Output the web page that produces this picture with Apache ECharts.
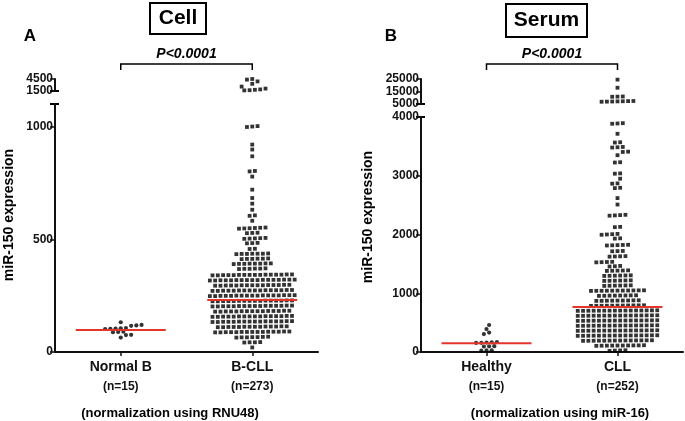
<!DOCTYPE html>
<html><head><meta charset="utf-8">
<script src="https://cdn.jsdelivr.net/npm/echarts@6/dist/echarts.min.js"></script>
<style>html,body{margin:0;padding:0;background:#fff}#c{width:685px;height:421px}</style>
</head><body><div id="c"></div>
<script>
// ---------- data ----------
const panelACategories = ['Normal B', 'B-CLL'];
const panelACounts = ['(n=15)', '(n=273)'];
const panelBCategories = ['Healthy', 'CLL'];
const panelBCounts = ['(n=15)', '(n=252)'];

const normalB = [132, 120, 118, 116, 106, 105, 104, 103, 102, 90, 89, 88, 76, 75, 64];

const bCLL = [
  4500, 4350, 3900, 3300, 2600, 2100, 1900, 1800, 1700, 1650,
  1002, 1000, 998, 920, 898, 868, 803, 801, 778, 720, 683, 658, 631, 606, 604, 582,
  552, 551, 550, 549, 548, 547, 529, 528, 527, 506, 505, 504, 503, 502, 484, 483, 482, 458, 457,
  437, 436, 436, 435, 435, 434, 436,
  415, 414, 414, 413, 413, 412,
  393, 392, 392, 391, 391, 390, 392, 393,
  371, 370, 370, 369, 369, 368,
  340, 341, 341, 342, 342, 342, 343, 343, 344, 344, 342, 341, 343, 340, 342, 343,
  317, 318, 318, 319, 319, 319, 320, 320, 321, 321, 319, 318, 320, 317, 319, 320, 321,
  294, 295, 295, 296, 296, 296, 297, 297, 298, 298, 296, 295, 297, 294, 296,
  271, 272, 272, 273, 273, 273, 274, 274, 275, 275, 273, 272, 274, 271, 273, 274,
  248, 249, 249, 250, 250, 250, 251, 251, 252, 252, 250, 249, 251, 248, 250, 251, 252,
  225, 226, 226, 227, 227, 227, 228, 228, 229, 229, 227, 226, 228, 225, 227, 228,
  202, 203, 203, 204, 204, 204, 205, 205, 206, 206, 204, 203, 205, 202, 204, 205,
  179, 180, 180, 181, 181, 181, 182, 182, 183, 183, 181, 180, 182, 179, 181,
  156, 157, 157, 158, 158, 158, 159, 159, 160, 160, 158, 157, 159, 156, 158, 159,
  133, 134, 134, 135, 135, 135, 136, 136, 137, 137, 135, 134, 136, 133, 135, 136,
  110, 111, 111, 112, 112, 112, 113, 113, 114, 114, 112, 111, 113, 110,
  87, 88, 88, 89, 89, 89, 90, 90, 91, 91, 89, 88, 90, 87, 89,
  64, 65, 66, 66, 67, 68, 65,
  42, 43, 44, 43,
  20
];

const healthy = [460, 390, 330, 305, 168, 164, 160, 157, 154, 100, 97, 94, 30, 26, 22];

const cllSerum = [
  24500, 18000, 11000, 10900, 10800, 7400, 7300, 7200, 7100, 7000, 6900, 6800,
  3895, 3890, 3885, 3714, 3570, 3565, 3490, 3485, 3480, 3410, 3405, 3350,
  3230, 3225, 3040, 3035, 2950, 2870, 2865, 2795, 2790, 2620, 2510,
  2335, 2330, 2325, 2320, 2130, 2125, 2010, 2005, 2000, 1995, 1935, 1930,
  1825, 1822, 1819, 1816, 1813, 1720, 1717, 1714, 1632, 1629, 1626, 1623,
  1535, 1532, 1529, 1526, 1465, 1460, 1455,
  1380, 1383, 1385, 1387, 1390,
  1295, 1297, 1299, 1301, 1303, 1305,
  1210, 1212, 1214, 1216, 1218, 1220,
  1125, 1128, 1130, 1131, 1133, 1135,
  1040, 1041, 1042, 1043, 1044, 1045, 1046, 1047, 1048, 1049, 1050,
  955, 957, 959, 960, 961, 962, 964, 965,
  870, 871, 873, 874, 875, 876, 877, 879, 880,
  785, 786, 787, 788, 789, 790, 791, 792, 793, 794, 795,
  700, 701, 702, 703, 704, 705, 705, 706, 707, 708, 709, 710, 703, 707, 704, 706,
  615, 616, 617, 618, 619, 620, 620, 621, 622, 623, 624, 625, 618, 622, 619, 621,
  530, 531, 532, 533, 534, 535, 535, 536, 537, 538, 539, 540, 533, 537, 534, 536,
  445, 446, 447, 448, 449, 450, 450, 451, 452, 453, 454, 455, 448, 452, 449, 451,
  360, 361, 362, 363, 364, 365, 365, 366, 367, 368, 369, 370, 363, 367, 364, 366,
  275, 276, 277, 278, 279, 280, 280, 281, 282, 283, 284, 285, 278, 282, 279, 281,
  190, 191, 192, 193, 194, 195, 195, 196, 197, 198, 199, 200, 193, 196,
  105, 107, 108, 109, 110, 111, 112, 113, 115, 110,
  20, 24, 27, 30
];

const medianA = [98, 231];
const medianB = [148, 765];

const ticksALower = [0, 500, 1000];
const ticksAUpper = [1500, 4500];
const ticksBLower = [0, 1000, 2000, 3000, 4000];
const ticksBUpper = [5000, 15000, 25000];
const rangeALower = [0, 1100];
const rangeAUpper = [1500, 4500];
const rangeBLower = [0, 4000];
const rangeBUpper = [5000, 25000];

// ---------- chart ----------
const FONT = "'Liberation Sans', Arial, Helvetica, sans-serif";
const INK = '#111';
const chart = echarts.init(document.getElementById('c'), null, {renderer: 'canvas'});

function yAxis(gi, range, ticks) {
  return {
    type: 'value', gridIndex: gi, min: range[0], max: range[1],
    splitLine: {show: false},
    axisLine: {show: true, onZero: false, lineStyle: {color: INK, width: 2}},
    axisTick: {show: true, customValues: ticks, length: 5, lineStyle: {color: INK, width: 1.5}},
    axisLabel: {customValues: ticks, formatter: v => String(v), fontSize: 12, fontWeight: 'bold', color: INK, fontFamily: FONT, margin: 2}
  };
}
function xAxis(gi, show, cats, counts) {
  if (!show) return {type: 'value', gridIndex: gi, min: 0.5, max: 2.5, show: false};
  return {
    type: 'value', gridIndex: gi, min: 0.5, max: 2.5,
    splitLine: {show: false},
    axisLine: {show: true, onZero: false, lineStyle: {color: INK, width: 2}},
    axisTick: {show: true, customValues: [1, 2], length: 4, lineStyle: {color: INK, width: 1.5}},
    axisLabel: {
      customValues: [1, 2], margin: 6,
      formatter: v => { const i = Math.round(v) - 1; return '{a|' + cats[i] + '}\n{b|' + counts[i] + '}'; },
      rich: {
        a: {fontSize: 14, fontWeight: 'bold', lineHeight: 18, fontFamily: FONT, color: INK},
        b: {fontSize: 12, fontWeight: 'bold', lineHeight: 22, fontFamily: FONT, color: INK}
      }
    }
  };
}
function medianSeries(gi, medians) {
  return {
    type: 'custom', xAxisIndex: gi, yAxisIndex: gi, z: 10, silent: true,
    data: medians.map((m, i) => [i + 1, m]),
    renderItem: (params, api) => {
      const p = api.coord([api.value(0), api.value(1)]);
      return {type: 'line', shape: {x1: p[0] - 45, y1: p[1], x2: p[0] + 45, y2: p[1]},
        style: {stroke: '#e5342c', lineWidth: 2}};
    }
  };
}
function dots(gi, symbol, size) {
  return {type: 'scatter', xAxisIndex: gi, yAxisIndex: gi, symbol, symbolSize: size, silent: true,
    itemStyle: {color: '#000'}, data: []};
}

chart.setOption({
  animation: false,
  grid: [
    {left: 55, top: 104, width: 263, height: 248},
    {left: 55, top: 79, width: 263, height: 12},
    {left: 421, top: 117, width: 262, height: 235},
    {left: 421, top: 79, width: 262, height: 25}
  ],
  xAxis: [
    xAxis(0, true, panelACategories, panelACounts),
    xAxis(1, false),
    xAxis(2, true, panelBCategories, panelBCounts),
    xAxis(3, false)
  ],
  yAxis: [
    yAxis(0, rangeALower, ticksALower),
    yAxis(1, rangeAUpper, ticksAUpper),
    yAxis(2, rangeBLower, ticksBLower),
    yAxis(3, rangeBUpper, ticksBUpper)
  ],
  series: [
    dots(0, 'circle', 4.2),
    dots(0, 'rect', 3.8),
    dots(1, 'rect', 3.8),
    dots(2, 'circle', 4.2),
    dots(2, 'rect', 3.8),
    dots(3, 'rect', 3.8),
    medianSeries(0, medianA),
    medianSeries(2, medianB)
  ]
});

// beeswarm layout computed in pixel space from the axis scales
function swarm(values, gi, center, pitch, minDist) {
  if (!values.length) return [];
  const cv = v => chart.convertToPixel({gridIndex: gi}, [center, v]);
  const x0 = cv(values[0])[0];
  const ppu = chart.convertToPixel({gridIndex: gi}, [center + 1, values[0]])[0] - x0;
  const pts = values.map(v => ({v, y: cv(v)[1]})).sort((a, b) => b.y - a.y);
  const clusters = [];
  let cur = null;
  pts.forEach(p => {
    if (cur && cur[0].y - p.y <= 1.5) cur.push(p); else { cur = [p]; clusters.push(cur); }
  });
  const shifts = [0];
  for (let k = 1; k <= 60; k++) shifts.push(k * pitch / 2, -k * pitch / 2);
  const placed = [], out = [];
  clusters.forEach(c => {
    const n = c.length;
    for (const s of shifts) {
      const xs = c.map((p, i) => (i - (n - 1) / 2) * pitch + s);
      const ok = c.every((p, i) => placed.every(q => Math.hypot(q.x - xs[i], q.y - p.y) >= minDist));
      if (ok) {
        c.forEach((p, i) => { placed.push({x: xs[i], y: p.y}); out.push([center + xs[i] / ppu, p.v]); });
        break;
      }
    }
  });
  return out;
}

const bCLLLow = bCLL.filter(v => v <= rangeALower[1]);
const bCLLHigh = bCLL.filter(v => v > rangeALower[1]);
const cllLow = cllSerum.filter(v => v <= rangeBLower[1]);
const cllHigh = cllSerum.filter(v => v > rangeBLower[1]);

const px = (gi, x, y) => chart.convertToPixel({gridIndex: gi}, [x, y]);
function txt(x, y, text, font, rot) {
  return {type: 'text', x, y, rotation: rot || 0, silent: true,
    style: {text, font, fill: '#000', textAlign: 'center', textVerticalAlign: 'middle', align: 'center', verticalAlign: 'middle'}};
}
function bracket(gi, yTop) {
  const a = px(gi, 1, 0)[0], b = px(gi, 2, 0)[0];
  return {type: 'polyline', silent: true, shape: {points: [[a, yTop + 6], [a, yTop], [b, yTop], [b, yTop + 6]]},
    style: {fill: 'none', stroke: '#000', lineWidth: 1.5}};
}
function cap(gi, x, v) {
  const p = px(gi, x, v);
  return {type: 'line', silent: true, shape: {x1: p[0] - 5, y1: p[1], x2: p[0] + 4, y2: p[1]},
    style: {stroke: '#000', lineWidth: 2}};
}
const midA = (px(0, 1, 0)[0] + px(0, 2, 0)[0]) / 2;
const midB = (px(2, 1, 0)[0] + px(2, 2, 0)[0]) / 2;

chart.setOption({
  series: [
    {data: swarm(normalB, 0, 1, 5.2, 4.2)},
    {data: swarm(bCLLLow, 0, 2, 5.3, 4.9)},
    {data: swarm(bCLLHigh, 1, 2, 5.3, 4.6)},
    {data: swarm(healthy, 2, 1, 5.2, 4.2)},
    {data: swarm(cllLow, 2, 2, 5.3, 4.9)},
    {data: swarm(cllHigh, 3, 2, 5.3, 4.6)}
  ],
  graphic: [
    {type: 'rect', silent: true, shape: {x: 150, y: 3, width: 56, height: 31}, style: {fill: 'none', stroke: '#000', lineWidth: 2}},
    txt(178, 18.5, 'Cell', 'bold 21px ' + FONT),
    {type: 'rect', silent: true, shape: {x: 506, y: 4, width: 81, height: 33}, style: {fill: 'none', stroke: '#000', lineWidth: 2}},
    txt(546.5, 20.5, 'Serum', 'bold 21px ' + FONT),
    txt(30, 36, 'A', 'bold 17px ' + FONT),
    txt(391, 36, 'B', 'bold 17px ' + FONT),
    txt(midA, 54, 'P<0.0001', 'italic bold 14px ' + FONT),
    txt(midB, 54, 'P<0.0001', 'italic bold 14px ' + FONT),
    bracket(0, 64),
    bracket(2, 64),
    cap(0, 0.5, rangeALower[1]),
    cap(1, 0.5, rangeAUpper[0]),
    cap(2, 0.5, rangeBLower[1]),
    cap(3, 0.5, rangeBUpper[0]),
    txt(9, 215, 'miR-150 expression', 'bold 14px ' + FONT, Math.PI / 2),
    txt(368, 217, 'miR-150 expression', 'bold 14px ' + FONT, Math.PI / 2),
    txt(170, 413, '(normalization using RNU48)', 'bold 13px ' + FONT),
    txt(560, 413, '(normalization using miR-16)', 'bold 13px ' + FONT)
  ]
});
</script>
</body></html>
